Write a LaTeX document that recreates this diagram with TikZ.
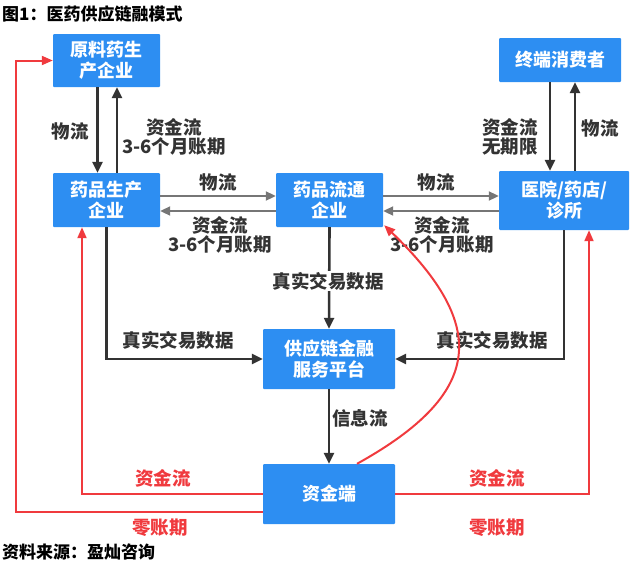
\documentclass[tikz,border=0pt]{standalone}
\usepackage{fontspec}
\setmainfont{Noto Sans CJK SC}
\usetikzlibrary{arrows.meta}
\definecolor{boxblue}{RGB}{45,142,242}
\definecolor{flowred}{RGB}{240,58,62}
\definecolor{darkline}{RGB}{51,51,51}
\definecolor{grayline}{RGB}{118,118,118}
\def\fsize{\fontsize{17}{20}\selectfont\bfseries}
\def\usize{\fontsize{18}{21}\selectfont\bfseries}
\tikzstyle{unit}=[fill=boxblue, text=white, rounded corners=1pt, align=center, inner sep=0pt, font=\usize]
\tikzstyle{lbl}=[text=darkline, align=center, inner sep=1pt, font=\fontsize{18.5}{19.5}\selectfont\bfseries]
\tikzstyle{redlbl}=[lbl, text=flowred]
\tikzstyle{dark}=[darkline, line width=2.6pt, -{Triangle[length=11pt,width=10pt]}]
\tikzstyle{light}=[grayline, line width=2pt, -{Triangle[length=10pt,width=9pt]}]
\tikzstyle{money}=[flowred, line width=2pt, -{Triangle[length=11pt,width=9pt]}]

\begin{document}
\begin{tikzpicture}[x=1pt, y=-1pt]
  \useasboundingbox (0,0) rectangle (640,570);

  % title and source
  \node [anchor=west, inner sep=0pt, font=\fsize] (title) at (2,14) {图1：医药供应链融模式};
  \node [anchor=west, inner sep=0pt, font=\fsize] (source) at (2,552) {资料来源：盈灿咨询};

  % enterprise nodes
  \node [unit, minimum width=107, minimum height=53] (raw) at (106.5,60.5) {原料药生\\产企业};
  \node [unit, minimum width=122, minimum height=44] (cons) at (560,60) {终端消费者};
  \node [unit, minimum width=107, minimum height=54] (mfr) at (106.5,200) {药品生产\\企业};
  \node [unit, minimum width=107, minimum height=54] (dist) at (329.5,200) {药品流通\\企业};
  \node [unit, minimum width=130, minimum height=59] (hosp) at (564,200.5) {医院/药店/\\诊所};

  % platform and funding
  \node [unit, minimum width=132, minimum height=60] (plat) at (329,359) {供应链金融\\服务平台};
  \node [unit, minimum width=132, minimum height=60] (fund) at (329,494) {资金端};

  % vertical flows
  \draw [dark] ([xshift=-9]raw.south) -- ([xshift=-9]mfr.north);
  \draw [dark] ([xshift=10.5]mfr.north) -- ([xshift=10.5]raw.south);
  \node [lbl] (l-raw1) at (70,131) {物流};
  \node [lbl] (l-raw2) at (174,137) {资金流\\3-6个月账期};

  \draw [dark] ([xshift=-10]cons.south) -- ([xshift=-10]cons.south |- hosp.north);
  \draw [dark] ([xshift=11]hosp.north) -- ([xshift=11]hosp.north |- cons.south);
  \node [lbl] (l-cons1) at (510,137) {资金流\\无期限};
  \node [lbl] (l-cons2) at (600,128) {物流};

  % horizontal flows
  \draw [light] ([yshift=4]mfr.east) -- ([yshift=4]dist.west);
  \draw [light] ([yshift=-11]dist.west) -- ([yshift=-11]mfr.east);
  \node [lbl] (l-md1) at (218,182) {物流};
  \node [lbl] (l-md2) at (220,235) {资金流\\3-6个月账期};

  \draw [light] ([yshift=4]dist.east) -- ([yshift=4]dist.east -| hosp.west);
  \draw [light] ([yshift=-11]dist.east -| hosp.west) -- ([yshift=-11]dist.east);
  \node [lbl] (l-dh1) at (436,182) {物流};
  \node [lbl] (l-dh2) at (442,235) {资金流\\3-6个月账期};

  % trade data to platform
  \draw [dark] (mfr.south) |- (plat.west);
  \draw [dark] (hosp.south) |- (plat.east);
  \draw [dark] (dist.south) -- (plat.north);
  \node [lbl] (l-d1) at (178,340) {真实交易数据};
  \node [lbl] (l-d2) at (492,340) {真实交易数据};
  \node [lbl, fill=white] (l-d3) at (328,281) {真实交易数据};

  \draw [dark] (plat.south) -- (fund.north);
  \node [lbl] (l-info) at (360,418) {信息流};

  % funding flows
  \draw [money] (fund.west) -| ([xshift=-24.5]mfr.south);
  \draw [money] ([yshift=-18]fund.west) -| ([xshift=-37]raw.west) -- (raw.west);
  \draw [money] (fund.east) -| ([xshift=25]hosp.south);
  \draw [money] ([xshift=28]fund.north) to[out=29, in=-44, looseness=1.55] ([xshift=1,yshift=2]dist.south east);
  \node [redlbl] (l-f1) at (163,478) {资金流};
  \node [redlbl] (l-f2) at (160,528) {零账期};
  \node [redlbl] (l-f3) at (497,478) {资金流};
  \node [redlbl] (l-f4) at (497,528) {零账期};
\end{tikzpicture}
\end{document}
